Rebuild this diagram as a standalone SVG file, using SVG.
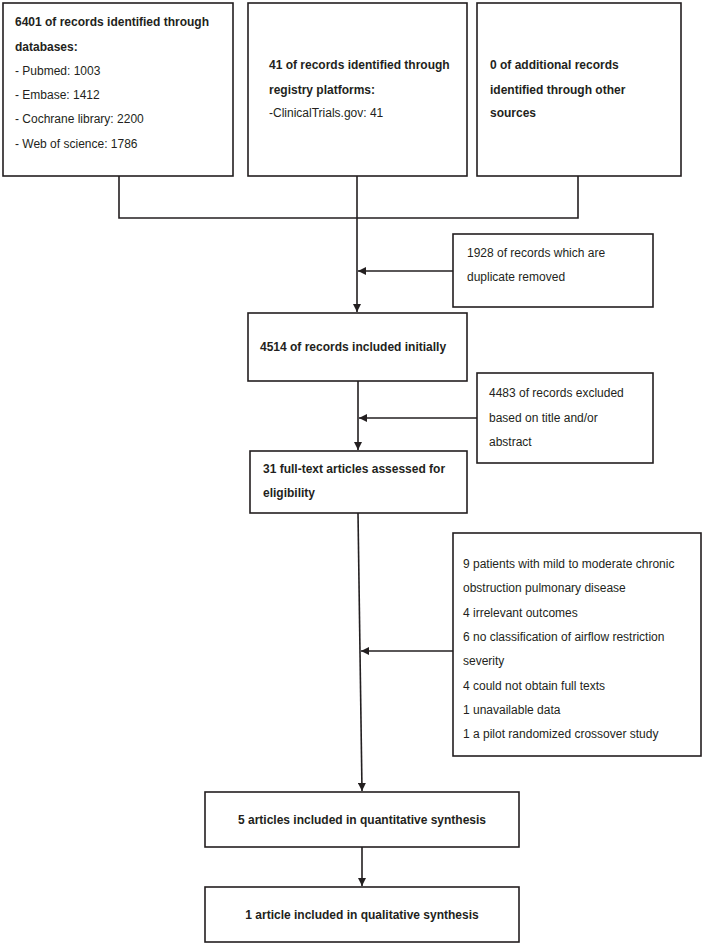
<svg xmlns="http://www.w3.org/2000/svg" width="705" height="945" viewBox="0 0 705 945">
<style>
.box{fill:#fff;stroke:#231f20;stroke-width:1.6}
.t{font-family:"Liberation Sans",Arial,sans-serif;font-size:12px;fill:#231f20}
.b{font-weight:bold}
.c{text-anchor:middle}
.ln{fill:none;stroke:#231f20;stroke-width:1.6}
</style>
<defs>
<marker id="ah" viewBox="0 0 10 10" refX="10" refY="5" markerWidth="8" markerHeight="8" markerUnits="userSpaceOnUse" orient="auto">
<path d="M0,0 L10,5 L0,10 z" fill="#231f20"/>
</marker>
</defs>
<g id="connectors">
<polyline class="ln" points="119,176 119,218 578,218 578,176"/>
<line class="ln" x1="357" y1="176" x2="357" y2="218"/>
<line class="ln" x1="357" y1="218" x2="357" y2="312" marker-end="url(#ah)"/>
<line class="ln" x1="453" y1="271" x2="358" y2="271" marker-end="url(#ah)"/>
<line class="ln" x1="358" y1="381" x2="358" y2="450" marker-end="url(#ah)"/>
<line class="ln" x1="477" y1="418" x2="359" y2="418" marker-end="url(#ah)"/>
<line class="ln" x1="358" y1="513" x2="362" y2="791" marker-end="url(#ah)"/>
<line class="ln" x1="453" y1="651" x2="361" y2="651" marker-end="url(#ah)"/>
<line class="ln" x1="362" y1="847" x2="362" y2="886" marker-end="url(#ah)"/>
</g>
<g id="n1">
<rect class="box" x="3" y="3" width="230" height="173"/>
<text class="t b" x="15" y="26">6401 of records identified through</text>
<text class="t b" x="15" y="51">databases:</text>
<text class="t" x="15" y="75">- Pubmed: 1003</text>
<text class="t" x="15" y="99">- Embase: 1412</text>
<text class="t" x="15" y="123">- Cochrane library: 2200</text>
<text class="t" x="15" y="148">- Web of science: 1786</text>
</g>
<g id="n2">
<rect class="box" x="248" y="3" width="219" height="173"/>
<text class="t b" x="269" y="69">41 of records identified through</text>
<text class="t b" x="269" y="94">registry platforms:</text>
<text class="t" x="269" y="117">-ClinicalTrials.gov: 41</text>
</g>
<g id="n3">
<rect class="box" x="477" y="3" width="204" height="173"/>
<text class="t b" x="490" y="69">0 of additional records</text>
<text class="t b" x="490" y="94">identified through other</text>
<text class="t b" x="490" y="117">sources</text>
</g>
<g id="n4">
<rect class="box" x="453" y="234" width="200" height="73"/>
<text class="t" x="467" y="257">1928 of records which are</text>
<text class="t" x="467" y="281">duplicate removed</text>
</g>
<g id="n5">
<rect class="box" x="248" y="313" width="219" height="68"/>
<text class="t b" x="260" y="351">4514 of records included initially</text>
</g>
<g id="n6">
<rect class="box" x="477" y="373" width="176" height="90"/>
<text class="t" x="489" y="397">4483 of records excluded</text>
<text class="t" x="489" y="422">based on title and/or</text>
<text class="t" x="489" y="446">abstract</text>
</g>
<g id="n7">
<rect class="box" x="250" y="451" width="217" height="62"/>
<text class="t b" x="263" y="473">31 full-text articles assessed for</text>
<text class="t b" x="263" y="497">eligibility</text>
</g>
<g id="n8">
<rect class="box" x="453" y="533" width="248" height="223"/>
<text class="t" x="463" y="568">9 patients with mild to moderate chronic</text>
<text class="t" x="463" y="592">obstruction pulmonary disease</text>
<text class="t" x="463" y="617">4 irrelevant outcomes</text>
<text class="t" x="463" y="641">6 no classification of airflow restriction</text>
<text class="t" x="463" y="665">severity</text>
<text class="t" x="463" y="690">4 could not obtain full texts</text>
<text class="t" x="463" y="714">1 unavailable data</text>
<text class="t" x="463" y="738">1 a pilot randomized crossover study</text>
</g>
<g id="n9">
<rect class="box" x="205" y="792" width="314" height="55"/>
<text class="t b c" x="362" y="824">5 articles included in quantitative synthesis</text>
</g>
<g id="n10">
<rect class="box" x="205" y="887" width="314" height="55"/>
<text class="t b c" x="362" y="919">1 article included in qualitative synthesis</text>
</g>
</svg>
